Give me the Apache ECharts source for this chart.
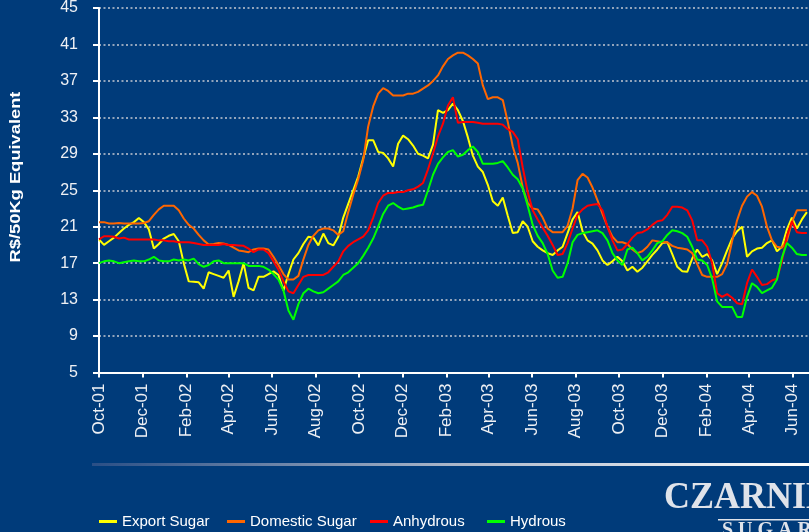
<!DOCTYPE html>
<html>
<head>
<meta charset="utf-8">
<script src="https://cdn.jsdelivr.net/npm/echarts@6/dist/echarts.min.js"></script>
<style>
html,body{margin:0;padding:0;background:#003b7a;}
#chart{width:809px;height:532px;}
</style>
</head>
<body>
<div id="chart"></div>
<script>
// Weekly observations starting 1 Oct 2001
const startDate = '2001-10-01';
const stepDays = 7;

const exportSugar = [
19.6,19.0,19.4,19.8,20.3,20.8,21.2,21.5,21.95,21.5,
20.7,18.6,19.1,19.7,20.0,20.2,19.4,17.0,15.0,14.95,
14.9,14.2,16.0,15.8,15.6,15.4,16.2,13.3,15.0,17.0,
14.3,14.0,15.5,15.5,15.8,16.1,15.7,14.0,15.8,17.4,
18.1,19.1,19.9,19.8,18.95,20.25,19.2,18.95,19.9,22.0,
23.5,25.0,26.5,28.5,30.5,30.5,29.2,29.1,28.5,27.6,
30.1,31.0,30.6,29.9,29.0,28.8,28.5,30.0,33.8,33.5,
33.8,34.5,33.8,32.6,30.8,28.8,27.6,27.0,25.6,23.8,
23.3,24.2,22.2,20.3,20.4,21.6,21.0,19.4,18.8,18.4,
18.1,17.9,18.4,18.8,20.3,21.8,22.6,20.5,19.5,19.15,
18.4,17.3,16.8,17.2,17.7,17.2,16.2,16.6,16.05,16.5,
17.2,17.9,18.5,19.2,19.3,18.0,16.6,16.1,16.05,17.5,
18.5,17.7,18.0,17.3,15.8,17.0,18.4,19.7,20.5,21.0,
17.7,18.3,18.6,18.7,19.2,19.5,18.3,18.8,20.7,22.0,
20.8,21.8,22.6
];
const domesticSugar = [
21.5,21.5,21.35,21.35,21.4,21.35,21.35,21.35,21.35,21.4,
21.6,22.3,22.9,23.3,23.3,23.3,22.8,21.9,21.2,20.8,
20.1,19.5,19.05,19.1,19.2,19.15,19.0,18.7,18.4,18.3,
18.2,18.5,18.6,18.6,18.5,17.7,16.8,15.8,15.2,15.2,
15.6,17.4,19.0,20.0,20.6,20.8,20.8,20.6,20.1,20.5,
22.6,24.5,26.2,28.3,32.0,34.2,35.6,36.2,35.9,35.4,
35.4,35.4,35.6,35.6,35.8,36.15,36.5,37.0,37.6,38.6,
39.4,39.8,40.1,40.1,39.8,39.4,38.9,36.5,35.0,35.2,
35.2,34.9,32.5,29.8,28.0,25.3,23.6,23.0,22.9,22.0,
20.8,20.4,20.4,20.4,21.1,23.0,26.1,26.8,26.4,25.3,
23.9,22.4,21.0,19.9,19.3,19.3,19.1,18.5,18.1,18.3,
18.8,19.5,19.4,19.3,19.3,18.9,18.7,18.6,18.5,18.1,
16.9,15.7,15.5,15.5,15.5,15.8,16.9,19.4,21.7,23.3,
24.3,24.8,24.4,23.2,21.0,19.5,18.8,18.7,19.5,21.5,
22.8,22.8,22.8
];
const anhydrous = [
19.6,19.95,19.95,19.9,19.7,19.8,19.6,19.6,19.6,19.6,
19.6,19.6,19.5,19.5,19.4,19.4,19.3,19.3,19.3,19.2,
19.1,19.0,19.0,19.0,19.0,19.1,19.0,19.0,18.95,18.9,
18.6,18.2,18.5,18.5,18.1,17.2,16.3,15.0,13.9,13.7,
14.6,15.5,15.7,15.7,15.7,15.7,16.0,16.6,17.2,18.3,
18.9,19.3,19.6,19.9,20.6,22.0,23.6,24.4,24.7,24.7,
24.8,24.8,25.0,25.1,25.4,25.8,27.3,29.0,30.9,32.3,
34.3,35.2,32.4,32.5,32.5,32.5,32.4,32.3,32.3,32.3,
32.3,32.2,31.7,31.4,30.6,27.5,24.8,22.8,21.8,20.9,
20.0,19.0,17.9,18.0,19.2,20.8,22.3,22.9,23.3,23.4,
23.5,22.8,21.0,19.5,18.4,18.5,19.1,19.8,20.3,20.4,
20.7,21.2,21.6,21.7,22.3,23.2,23.2,23.1,22.8,21.7,
19.5,19.5,18.8,17.0,13.7,13.3,13.6,13.2,12.6,12.5,
14.8,16.3,15.5,14.6,14.7,15.1,15.3,17.2,20.0,21.6,
20.4,20.3,20.3
];
const hydrous = [
17.0,17.2,17.3,17.2,17.0,17.1,17.2,17.3,17.2,17.2,
17.4,17.7,17.3,17.2,17.2,17.4,17.3,17.4,17.3,17.5,
16.9,16.6,16.8,17.2,17.3,17.0,17.0,17.0,17.0,17.0,
16.7,16.7,16.7,16.6,16.3,15.8,15.2,14.0,11.8,10.8,
12.5,13.7,14.2,13.9,13.7,13.8,14.2,14.6,15.0,15.7,
16.0,16.5,17.0,17.8,18.7,19.7,21.0,22.4,23.3,23.6,
23.2,22.9,23.0,23.1,23.3,23.4,25.0,26.7,27.9,28.6,
29.2,29.4,28.7,28.9,29.4,29.8,29.2,27.9,27.9,27.9,
28.0,28.2,27.5,26.7,26.2,25.2,23.3,21.2,20.0,19.2,
18.0,16.2,15.4,15.5,17.0,19.3,20.1,20.3,20.4,20.5,
20.6,20.3,19.5,18.1,17.3,16.8,18.5,18.7,18.1,17.3,
17.7,18.4,19.2,19.4,20.1,20.6,20.5,20.3,19.9,18.8,
17.4,17.3,16.8,15.3,12.8,12.2,12.2,12.2,11.1,11.1,
13.3,14.8,14.4,13.7,14.0,14.3,15.2,17.6,19.2,18.7,
18.0,17.9,17.9
];

const tickDates = ['2001-10-01','2001-12-01','2002-02-01','2002-04-01','2002-06-01','2002-08-01',
  '2002-10-01','2002-12-01','2003-02-01','2003-04-01','2003-06-01','2003-08-01','2003-10-01',
  '2003-12-01','2004-02-01','2004-04-01','2004-06-01'];
const tickLabels = ['Oct-01','Dec-01','Feb-02','Apr-02','Jun-02','Aug-02','Oct-02','Dec-02',
  'Feb-03','Apr-03','Jun-03','Aug-03','Oct-03','Dec-03','Feb-04','Apr-04','Jun-04'];
const endDate = '2004-06-24';

const seriesNames = ['Export Sugar','Domestic Sugar','Anhydrous','Hydrous'];
const seriesColors = ['#ffff00','#ff6600','#ff0000','#00ff00'];

function dayIndex(s){
  const p = s.split('-').map(Number);
  const q = startDate.split('-').map(Number);
  return Math.round((Date.UTC(p[0],p[1]-1,p[2]) - Date.UTC(q[0],q[1]-1,q[2]))/86400000);
}
const tickDays = tickDates.map(dayIndex);
const labelByDay = {};
tickDays.forEach((d,i)=>{ labelByDay[d] = tickLabels[i]; });

const FONT = '"Liberation Sans", Arial, sans-serif';
const allValues = [exportSugar, domesticSugar, anhydrous, hydrous];

const series = allValues.map((vals, si) => ({
  name: seriesNames[si],
  type: 'line',
  data: vals.map((v,i)=>[i*stepDays, v]),
  showSymbol: false,
  symbol: 'none',
  lineStyle: {width: 2, color: seriesColors[si]},
  itemStyle: {color: seriesColors[si]},
  emphasis: {disabled: true},
  animation: false
}));

const legendLeft = [99, 227, 370, 487];
const legends = seriesNames.map((n, i) => ({
  data: [n],
  left: legendLeft[i],
  top: 514,
  padding: 0,
  icon: 'rect',
  itemWidth: 18,
  itemHeight: 3,
  selectedMode: false,
  textStyle: {color: '#ffffff', fontSize: 15, fontFamily: FONT}
}));

const chart = echarts.init(document.getElementById('chart'), null, {renderer: 'canvas'});
chart.setOption({
  backgroundColor: '#003b7a',
  animation: false,
  grid: {left: 99, right: 0, top: 7.5, bottom: 159.5},
  legend: legends,
  xAxis: {
    type: 'value',
    min: 0,
    max: dayIndex(endDate),
    axisLine: {show: true, lineStyle: {color: '#ffffff', width: 2}},
    axisTick: {show: true, customValues: tickDays, length: 5, inside: false, lineStyle: {color: '#ffffff', width: 2}},
    axisLabel: {
      show: true,
      customValues: tickDays,
      rotate: 90,
      margin: 11,
      color: '#eef0f4',
      fontSize: 17,
      fontFamily: FONT,
      formatter: v => labelByDay[v] || ''
    },
    splitLine: {show: false}
  },
  yAxis: {
    type: 'value',
    min: 5,
    max: 45,
    interval: 4,
    axisLine: {show: true, lineStyle: {color: '#ffffff', width: 2}},
    axisTick: {show: true, length: 6, lineStyle: {color: '#ffffff', width: 2}},
    axisLabel: {color: '#eef0f4', fontSize: 16, margin: 21, fontFamily: FONT},
    splitLine: {show: true, lineStyle: {color: '#c4c9d2', width: 1.5, type: [2, 2.5]}}
  },
  series: series,
  graphic: [
    {
      type: 'text', x: 16, y: 177, rotation: Math.PI/2, scaleX: 1.22,
      style: {text: 'R$/50Kg Equivalent', font: 'bold 15px ' + FONT, fill: '#ffffff',
        textAlign: 'center', textVerticalAlign: 'middle', align: 'center', verticalAlign: 'middle'}
    },
    {
      type: 'rect', shape: {x: 92, y: 463, width: 717, height: 3},
      style: {fill: new echarts.graphic.LinearGradient(0, 0, 1, 0, [
        {offset: 0, color: '#2a4f86'}, {offset: 0.5, color: '#a9b5c8'}, {offset: 1, color: '#ffffff'}])}
    },
    {
      type: 'text', x: 664, y: 479, scaleY: 1.08,
      style: {text: 'CZARNIKOW', font: 'bold 36px "Liberation Serif", "Times New Roman", serif', fill: '#dfe3ea',
        textVerticalAlign: 'top', verticalAlign: 'top'}
    },
    {
      type: 'rect', shape: {x: 718, y: 519, width: 91, height: 1.5}, style: {fill: '#dfe3ea'}
    },
    {
      type: 'text', x: 722, y: 521,
      style: {text: 'S U G A R', font: 'bold 20px "Liberation Serif", "Times New Roman", serif', fill: '#dfe3ea',
        textVerticalAlign: 'top', verticalAlign: 'top'}
    }
  ]
});
</script>
</body>
</html>
